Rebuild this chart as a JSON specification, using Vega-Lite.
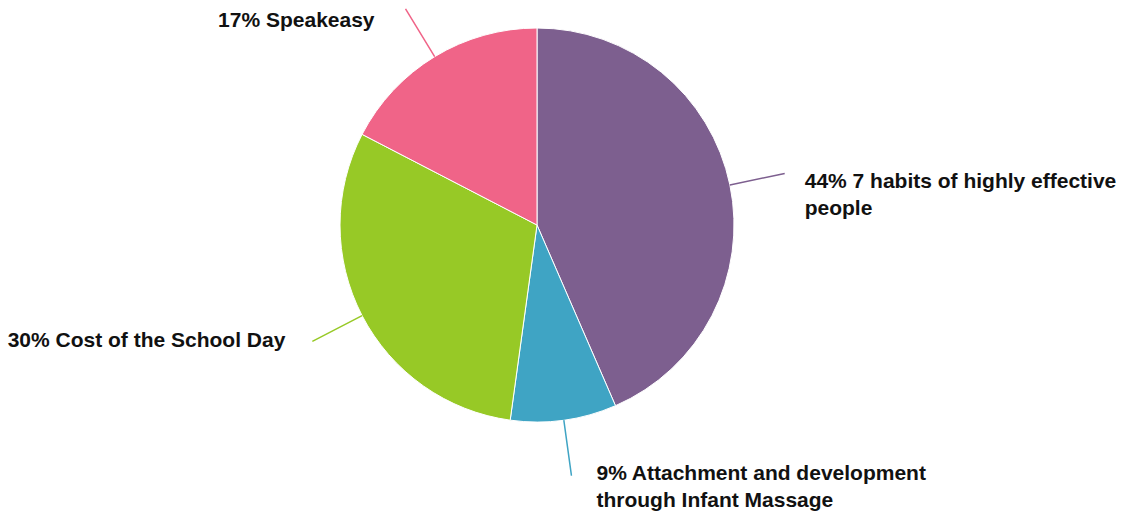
{
  "$schema": "https://vega.github.io/schema/vega-lite/v6.json",
  "width": 1074,
  "height": 450,
  "autosize": {"type": "none"},
  "padding": {"left": 0, "top": 0, "right": 52, "bottom": 66},
  "background": "white",
  "config": {"view": {"stroke": null}},
  "data": {
    "values": [
      {"category": "7 habits of highly effective people", "count": 10, "rank": 1, "label": ["44% 7 habits of highly effective", "people"]},
      {"category": "Attachment and development through Infant Massage", "count": 2, "rank": 2, "label": ["9% Attachment and development", "through Infant Massage"]},
      {"category": "Cost of the School Day", "count": 7, "rank": 3, "label": ["30% Cost of the School Day"]},
      {"category": "Speakeasy", "count": 4, "rank": 4, "label": ["17% Speakeasy"]}
    ]
  },
  "encoding": {
    "theta": {"field": "count", "type": "quantitative", "stack": true},
    "order": {"field": "rank", "type": "quantitative", "sort": "ascending"}
  },
  "layer": [
    {
      "mark": {"type": "arc", "outerRadius": 197, "stroke": "white", "strokeWidth": 1},
      "encoding": {
        "color": {
          "field": "category",
          "type": "nominal",
          "scale": {
            "domain": ["7 habits of highly effective people", "Attachment and development through Infant Massage", "Cost of the School Day", "Speakeasy"],
            "range": ["#7D5F8F", "#3FA4C4", "#97C926", "#F06488"]
          },
          "legend": null
        }
      }
    },
    {
      "mark": {"type": "arc", "filled": false, "radius": 253, "radius2": 197, "padAngle": 3.14, "strokeWidth": 1.5},
      "encoding": {
        "color": {"field": "category", "type": "nominal", "legend": null}
      }
    },
    {
      "mark": {"type": "text", "radius": 253, "dx": 20, "dy": 14, "align": "left", "baseline": "alphabetic", "font": "Liberation Sans", "fontWeight": "bold", "fontSize": 21, "lineHeight": 27, "color": "#111"},
      "encoding": {
        "text": {"condition": {"test": "datum.rank === 1", "field": "label"}, "value": ""}
      }
    },
    {
      "mark": {"type": "text", "radius": 253, "dx": 25, "dy": 4, "align": "left", "baseline": "alphabetic", "font": "Liberation Sans", "fontWeight": "bold", "fontSize": 21, "lineHeight": 27, "color": "#111"},
      "encoding": {
        "text": {"condition": {"test": "datum.rank === 2", "field": "label"}, "value": ""}
      }
    },
    {
      "mark": {"type": "text", "radius": 253, "dx": -27, "dy": 6, "align": "right", "baseline": "alphabetic", "font": "Liberation Sans", "fontWeight": "bold", "fontSize": 21, "lineHeight": 27, "color": "#111"},
      "encoding": {
        "text": {"condition": {"test": "datum.rank === 3", "field": "label"}, "value": ""}
      }
    },
    {
      "mark": {"type": "text", "radius": 253, "dx": -31, "dy": 18, "align": "right", "baseline": "alphabetic", "font": "Liberation Sans", "fontWeight": "bold", "fontSize": 21, "lineHeight": 27, "color": "#111"},
      "encoding": {
        "text": {"condition": {"test": "datum.rank === 4", "field": "label"}, "value": ""}
      }
    }
  ]
}
